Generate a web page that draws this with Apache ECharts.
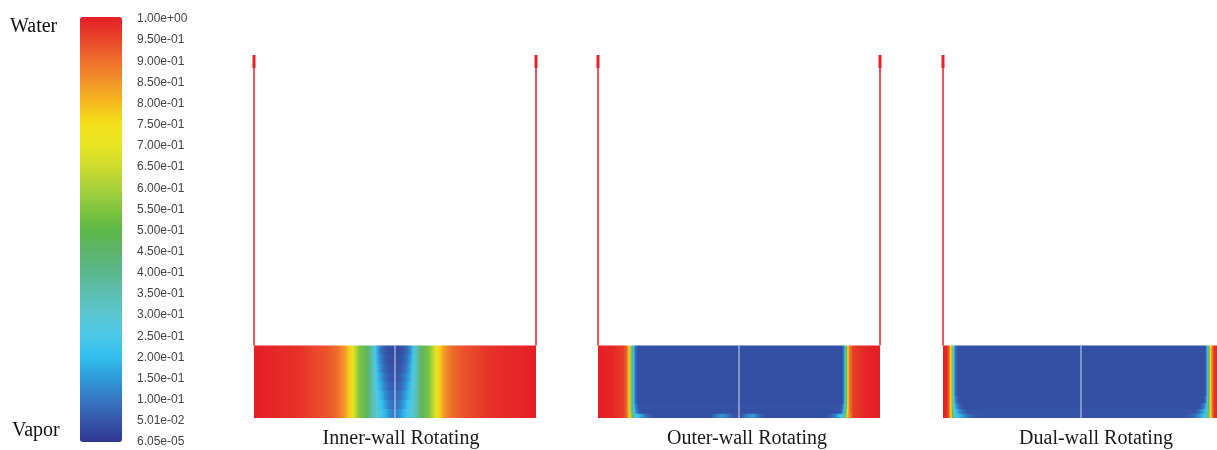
<!DOCTYPE html>
<html>
<head>
<meta charset="utf-8">
<script src="https://cdn.jsdelivr.net/npm/echarts@6/dist/echarts.min.js"></script>
<style>
  html, body { margin: 0; padding: 0; background: #fff; }
  #chart { width: 1217px; height: 450px; }
</style>
</head>
<body>
<div id="chart"></div>
<script>
// Volume-fraction colour scale (water = 1, vapour = 0), bottom to top
const scaleMin = 6.05e-5;
const scaleMax = 1.0;
const scaleTicks = [
  '6.05e-05', '5.01e-02', '1.00e-01', '1.50e-01', '2.00e-01', '2.50e-01', '3.00e-01',
  '3.50e-01', '4.00e-01', '4.50e-01', '5.00e-01', '5.50e-01', '6.00e-01', '6.50e-01',
  '7.00e-01', '7.50e-01', '8.00e-01', '8.50e-01', '9.00e-01', '9.50e-01', '1.00e+00'
];
const scaleColors = [
  '#2e3792', '#3656aa', '#3577c3', '#2f9ad9', '#32bfee', '#4cc8e8', '#5ac7d2',
  '#5cbfb0', '#5cb78d', '#5db46a', '#5db946', '#85c540', '#aad13a', '#cfdc2e',
  '#e8e423', '#f3e01a', '#f6b81e', '#f2922a', '#ee6c2c', '#e8452a', '#e31e25'
];

const panelTitles = ['Inner-wall Rotating', 'Outer-wall Rotating', 'Dual-wall Rotating'];

// Annulus geometry: radial position across the gap (0..100 %), height (0..1)
const gapInner = 0;
const gapOuter = 100;
const gapMid = 50;
const liquidLevel = 0.2;
const lipBase = 0.964;
const wallTop = 1.0;

// Inner-wall rotating: [r, alpha] profile per horizontal band.
// The water-rich flanks barely change with height; the vapour core is listed per band.
const innerLeftFlank = [[0,1],[16,0.975],[26,0.93],[29.4,0.9],[32.3,0.84],[33.5,0.78],[35.1,0.7],[36.5,0.6],[37.5,0.54],[40.0,0.47],[40.8,0.43]];
const innerRightFlank = [[58.8,0.43],[59.6,0.47],[62.1,0.54],[63.1,0.6],[64.5,0.7],[66.1,0.78],[67.3,0.84],[70.2,0.9],[73.6,0.93],[83.6,0.975],[100,1]];
const innerBands = [0.2, 0.175, 0.15, 0.125, 0.1, 0.075, 0.05, 0.025];
const innerCore = [
  [[41.8,0.35],[43,0.24],[44,0.15],[45,0.09],[46.5,0.05],[48,0.035],[49.8,0.03],[51.6,0.035],[53.1,0.05],[54.6,0.09],[55.6,0.15],[56.6,0.24],[57.8,0.35]],
  [[41.8,0.35],[43.1,0.245],[44.2,0.155],[45.3,0.095],[46.8,0.055],[48.2,0.04],[49.8,0.035],[51.4,0.04],[52.8,0.055],[54.3,0.095],[55.4,0.155],[56.5,0.245],[57.8,0.35]],
  [[41.8,0.35],[43.2,0.25],[44.4,0.16],[45.6,0.1],[47.1,0.06],[48.4,0.045],[49.8,0.04],[51.2,0.045],[52.5,0.06],[54,0.1],[55.2,0.16],[56.4,0.25],[57.8,0.35]],
  [[41.8,0.35],[43.3,0.255],[44.6,0.17],[45.9,0.11],[47.4,0.07],[48.6,0.055],[49.8,0.05],[51,0.055],[52.2,0.07],[53.7,0.11],[55,0.17],[56.3,0.255],[57.8,0.35]],
  [[41.8,0.355],[43.4,0.26],[44.8,0.18],[46.2,0.12],[47.6,0.08],[48.8,0.065],[49.8,0.06],[50.8,0.065],[52,0.08],[53.4,0.12],[54.8,0.18],[56.2,0.26],[57.8,0.355]],
  [[41.8,0.355],[43.5,0.27],[45,0.19],[46.4,0.135],[47.8,0.095],[48.9,0.08],[49.8,0.075],[50.7,0.08],[51.8,0.095],[53.2,0.135],[54.6,0.19],[56.1,0.27],[57.8,0.355]],
  [[41.8,0.36],[43.6,0.28],[45.2,0.21],[46.7,0.15],[47.9,0.11],[49,0.095],[49.8,0.09],[50.6,0.095],[51.7,0.11],[52.9,0.15],[54.4,0.21],[56,0.28],[57.8,0.36]],
  [[41.8,0.36],[43.6,0.29],[45.3,0.23],[46.8,0.18],[48,0.14],[49.1,0.115],[49.8,0.11],[50.5,0.115],[51.6,0.14],[52.8,0.18],[54.3,0.23],[56,0.29],[57.8,0.36]]
];
const innerRows = innerCore.map(core => innerLeftFlank.concat(core, innerRightFlank));

// Outer-wall rotating
const outerBands = [0.2, 0.04, 0.025, 0.012];
const outerRows = [
  [[0,1],[5,0.99],[9,0.96],[10.3,0.9],[10.9,0.78],[11.5,0.6],[12.1,0.4],[12.7,0.2],[13.3,0.08],[14.2,0.04],[86.5,0.04],[87.1,0.1],[87.6,0.25],[88.1,0.5],[88.6,0.72],[89.2,0.88],[90.5,0.96],[95,0.99],[100,1]],
  [[0,1],[5,0.99],[9,0.96],[10.3,0.9],[10.9,0.78],[11.5,0.6],[12.1,0.4],[12.75,0.21],[13.45,0.1],[14.4,0.045],[86.2,0.045],[86.85,0.1],[87.45,0.23],[88,0.48],[88.6,0.72],[89.2,0.88],[90.5,0.96],[95,0.99],[100,1]],
  [[0,1],[5,0.99],[9,0.96],[10.3,0.9],[10.9,0.78],[11.5,0.6],[12.1,0.4],[12.8,0.22],[13.6,0.12],[14.6,0.05],[15.5,0.04],[85.8,0.04],[86.6,0.1],[87.3,0.22],[87.9,0.45],[88.5,0.7],[89.2,0.88],[90.5,0.96],[95,0.99],[100,1]],
  [[0,1],[5,0.99],[9,0.96],[10.3,0.9],[11,0.78],[11.7,0.6],[12.5,0.4],[13.4,0.25],[14.5,0.2],[16,0.12],[18,0.06],[20,0.04],[40,0.04],[42,0.1],[44,0.14],[46,0.1],[48,0.05],[51,0.05],[53,0.12],[55,0.15],[57,0.08],[59,0.04],[81,0.04],[83,0.07],[84.5,0.13],[85.6,0.2],[86.6,0.25],[87.5,0.4],[88.3,0.65],[89.1,0.85],[90.5,0.96],[95,0.99],[100,1]]
];

// Dual-wall rotating
const dualBands = [0.2, 0.06, 0.04, 0.025, 0.012];
const dualRows = [
  [[0,1],[1.6,0.98],[2.3,0.88],[2.8,0.75],[3.3,0.55],[3.8,0.3],[4.3,0.12],[5,0.05],[5.8,0.04],[94.8,0.04],[95.4,0.1],[95.9,0.25],[96.4,0.5],[96.9,0.72],[97.5,0.88],[98.3,0.97],[100,1]],
  [[0,1],[1.6,0.98],[2.3,0.88],[2.8,0.75],[3.3,0.55],[3.85,0.3],[4.4,0.14],[5.3,0.06],[6.2,0.04],[94.4,0.04],[95.2,0.1],[95.8,0.25],[96.3,0.48],[96.9,0.72],[97.5,0.88],[98.3,0.97],[100,1]],
  [[0,1],[1.6,0.98],[2.3,0.88],[2.8,0.75],[3.3,0.55],[3.9,0.3],[4.6,0.17],[5.6,0.09],[6.8,0.05],[8,0.04],[92.8,0.04],[93.9,0.07],[94.9,0.14],[95.6,0.25],[96.2,0.45],[96.8,0.7],[97.5,0.88],[98.3,0.97],[100,1]],
  [[0,1],[1.6,0.98],[2.3,0.88],[2.85,0.74],[3.4,0.52],[4.0,0.3],[4.9,0.2],[6,0.13],[7.5,0.07],[9,0.045],[91,0.045],[92.6,0.08],[94,0.14],[95.1,0.22],[95.9,0.35],[96.5,0.55],[97,0.74],[97.6,0.89],[98.3,0.97],[100,1]],
  [[0,1],[1.6,0.98],[2.3,0.88],[2.9,0.72],[3.5,0.5],[4.2,0.3],[5.2,0.22],[6.5,0.17],[8.5,0.1],[10.5,0.06],[13,0.045],[87,0.045],[89.5,0.06],[91.5,0.1],[93.5,0.17],[94.8,0.24],[95.7,0.35],[96.4,0.55],[97,0.75],[97.6,0.9],[98.3,0.97],[100,1]]
];

const panels = [
  { bands: innerBands, rows: innerRows },
  { bands: outerBands, rows: outerRows },
  { bands: dualBands, rows: dualRows }
];

const wallColor = '#e4222a';
const serifFont = '"Liberation Serif", "Times New Roman", serif';
const sansFont = '"Liberation Sans", Arial, sans-serif';

function alphaColor(a) {
  const t = (a - scaleMin) / (scaleMax - scaleMin);
  return echarts.color.lerp(Math.min(1, Math.max(0, t)), scaleColors);
}

// Each band is painted from its top edge down to the floor, lower bands on top,
// so neighbouring bands never leave a seam.
function fieldSeries(idx, bands, rows) {
  return {
    type: 'custom',
    xAxisIndex: idx,
    yAxisIndex: idx,
    silent: true,
    data: bands.map((z, i) => [z, i]),
    renderItem(params, api) {
      const row = rows[api.value(1)];
      const p0 = api.coord([gapInner, api.value(0)]);
      const p1 = api.coord([gapOuter, 0]);
      const stops = row.map(([r, a]) => ({
        offset: (r - gapInner) / (gapOuter - gapInner),
        color: alphaColor(a)
      }));
      return {
        type: 'rect',
        shape: { x: p0[0], y: p0[1], width: p1[0] - p0[0], height: p1[1] - p0[1] },
        style: { fill: new echarts.graphic.LinearGradient(0, 0, 1, 0, stops) }
      };
    }
  };
}

function lineSeries(idx, data, color, width) {
  return {
    type: 'line',
    xAxisIndex: idx,
    yAxisIndex: idx,
    data: data,
    showSymbol: false,
    symbol: 'none',
    clip: false,
    silent: true,
    lineStyle: { color: color, width: width, cap: 'butt' },
    z: 3
  };
}

const panelGrids = [
  { left: 254, top: 55, width: 282, height: 363 },
  { left: 598, top: 55, width: 282, height: 363 },
  { left: 943, top: 55, width: 276, height: 363 }
];

const grids = panelGrids.map(g => Object.assign({ outerBoundsMode: 'none', containLabel: false, show: false }, g));
grids.push({ left: 80, top: 19, width: 42, height: 423, outerBoundsMode: 'none', containLabel: false, show: false });

const xAxes = [];
const yAxes = [];
const series = [];
panels.forEach((p, i) => {
  xAxes.push({ gridIndex: i, type: 'value', min: gapInner, max: gapOuter, show: false });
  yAxes.push({ gridIndex: i, type: 'value', min: 0, max: wallTop, show: false });
  series.push(fieldSeries(i, p.bands, p.rows));
  series.push(lineSeries(i, [[gapInner, liquidLevel], [gapInner, wallTop]], wallColor, 1.5));
  series.push(lineSeries(i, [[gapOuter, liquidLevel], [gapOuter, wallTop]], wallColor, 1.5));
  series.push(lineSeries(i, [[gapInner, lipBase], [gapInner, wallTop]], wallColor, 3));
  series.push(lineSeries(i, [[gapOuter, lipBase], [gapOuter, wallTop]], wallColor, 3));
  series.push(lineSeries(i, [[gapMid, 0], [gapMid, liquidLevel]], 'rgba(236,240,248,0.85)', 1));
});

// Tick labels of the colour scale
xAxes.push({ gridIndex: 3, type: 'value', show: false });
yAxes.push({
  gridIndex: 3,
  type: 'category',
  data: scaleTicks,
  boundaryGap: false,
  position: 'right',
  axisLine: { show: false },
  axisTick: { show: false },
  splitLine: { show: false },
  axisLabel: {
    interval: 0,
    margin: 15,
    align: 'left',
    fontFamily: sansFont,
    fontSize: 12,
    color: '#444'
  }
});

const titleCenters = [401, 747, 1096];
const graphics = [
  { type: 'text', style: { x: 10, y: 27, text: 'Water', font: '20px ' + serifFont, fill: '#111', verticalAlign: 'middle' } },
  { type: 'text', style: { x: 12, y: 431, text: 'Vapor', font: '20px ' + serifFont, fill: '#111', verticalAlign: 'middle' } }
].concat(panelTitles.map((t, i) => ({
  type: 'text',
  style: { x: titleCenters[i], y: 439, text: t, font: '20px ' + serifFont, fill: '#1a1a1a', align: 'center', verticalAlign: 'middle' }
})));

const chart = echarts.init(document.getElementById('chart'), null, { renderer: 'canvas' });
chart.setOption({
  animation: false,
  backgroundColor: '#ffffff',
  grid: grids,
  xAxis: xAxes,
  yAxis: yAxes,
  visualMap: {
    type: 'continuous',
    seriesIndex: [],
    min: scaleMin,
    max: scaleMax,
    left: 80,
    top: 17,
    padding: 0,
    itemWidth: 42,
    itemHeight: 425,
    calculable: false,
    text: null,
    showLabel: false,
    inRange: { color: scaleColors }
  },
  graphic: graphics,
  series: series
});
</script>
</body>
</html>
